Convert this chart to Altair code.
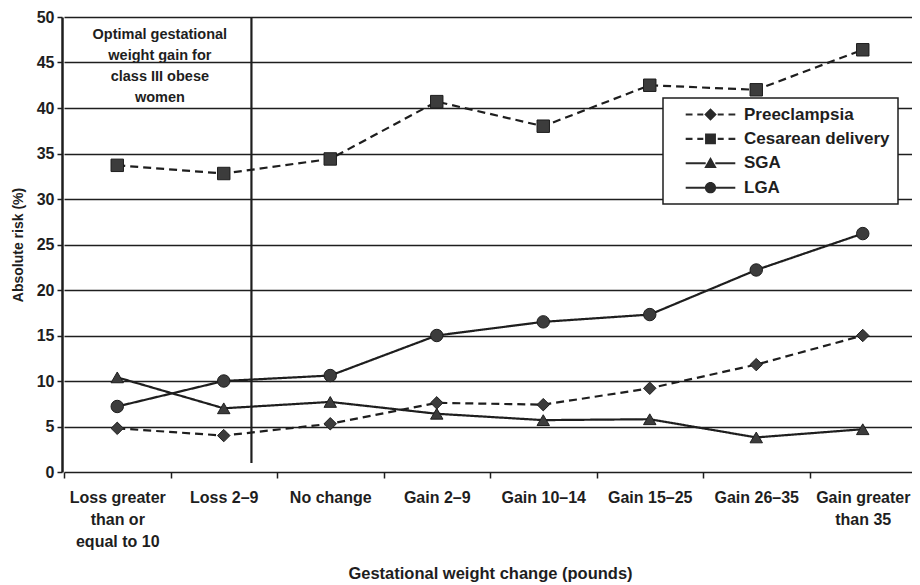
import altair as alt
import pandas as pd

# ---------------- data ----------------
categories = [
    "Loss greater|than or|equal to 10",
    "Loss 2–9",
    "No change",
    "Gain 2–9",
    "Gain 10–14",
    "Gain 15–25",
    "Gain 26–35",
    "Gain greater|than 35",
]
series = ["Preeclampsia", "Cesarean delivery", "SGA", "LGA"]
preeclampsia = [4.8, 4.0, 5.3, 7.6, 7.4, 9.2, 11.8, 15.0]
cesarean = [33.7, 32.8, 34.4, 40.7, 38.0, 42.5, 42.0, 46.4]
sga = [10.4, 7.0, 7.7, 6.4, 5.7, 5.8, 3.8, 4.7]
lga = [7.2, 10.0, 10.6, 15.0, 16.5, 17.3, 22.2, 26.2]
y_ticks = [0, 5, 10, 15, 20, 25, 30, 35, 40, 45, 50]
note_text = "Optimal gestational\nweight gain for\nclass III obese\nwomen"
x_title = "Gestational weight change (pounds)"
y_title = "Absolute risk (%)"

rows = []
for s, vals in zip(series, [preeclampsia, cesarean, sga, lga]):
    for c, v in zip(categories, vals):
        rows.append({"category": c, "series": s, "risk": v})
df = pd.DataFrame(rows)

FONT = "Liberation Sans"
INK = "#1e1e1e"
MARKER = "#3c3c3c"

x_scale = alt.Scale(type="band", domain=categories, range=[2, 854],
                    paddingInner=0, paddingOuter=0)
y_scale = alt.Scale(domain=[0, 50], nice=False)

x_axis = alt.Axis(
    labelExpr="split(datum.label, '|')", labelAngle=0, labelFont=FONT,
    labelFontSize=16, labelFontWeight="bold", labelColor=INK,
    labelLineHeight=22, labelPadding=11, labelLimit=200,
    tickBand="extent", tickSize=6, tickColor=INK, tickWidth=1.5,
    domain=False, grid=False,
    title=x_title, titleFont=FONT, titleFontSize=16.5, titleFontWeight="bold",
    titleColor=INK, titlePadding=16,
)
y_axis = alt.Axis(
    values=y_ticks, tickSize=5, tickColor=INK, tickWidth=1.5,
    labelFont=FONT, labelFontSize=16, labelFontWeight="bold", labelColor=INK,
    labelPadding=3,
    domainColor=INK, domainWidth=2.5,
    grid=True, gridColor=INK, gridWidth=1.4, gridOpacity=1,
    title=y_title, titleFont=FONT, titleFontSize=14, titleFontWeight="bold",
    titleColor=INK, titlePadding=11,
)

X = alt.X("category:N", sort=categories, scale=x_scale, axis=x_axis, bandPosition=0.5)
Y = alt.Y("risk:Q", scale=y_scale, axis=y_axis)

dash_scale = alt.Scale(domain=series, range=[[8, 5], [8, 5], [1, 0], [1, 0]])

lines = alt.Chart(df).mark_line(color=INK, strokeWidth=2.2).encode(
    x=X, y=Y,
    strokeDash=alt.StrokeDash("series:N", scale=dash_scale, legend=None),
    detail="series:N",
)

points = alt.Chart(df).mark_point(
    filled=True, fill=MARKER, stroke=INK, strokeWidth=1, opacity=1, size=155
).encode(
    x=X, y=Y,
    shape=alt.Shape("series:N", scale=alt.Scale(
        domain=series, range=["diamond", "square", "triangle-up", "circle"]), legend=None),
)

# legend symbols: thin filled bars (line pieces) + marker, unit = 8 px
def bar(x0, x1):
    return f"M{x0},-0.13H{x1}V0.13H{x0}Z"

DASHED = bar(-3.1, -2.25) + bar(-1.65, -0.9) + bar(0.9, 1.65) + bar(2.25, 3.1)
SOLID = bar(-3.1, -0.6) + bar(0.6, 3.1)
legend_paths = [
    DASHED + "M0,-0.78L0.78,0L0,0.78L-0.78,0Z",
    DASHED + "M-0.68,-0.68H0.68V0.68H-0.68Z",
    SOLID + "M0,-0.8L0.78,0.6H-0.78Z",
    SOLID
    + "M0.7,0C0.7,0.387 0.387,0.7 0,0.7C-0.387,0.7 -0.7,0.387 -0.7,0"
    "C-0.7,-0.387 -0.387,-0.7 0,-0.7C0.387,-0.7 0.7,-0.387 0.7,0Z",
]
legend_layer = alt.Chart(df).mark_point(
    filled=True, fill="#2a2a2a", opacity=1
).encode(
    x=X, y=Y,
    shape=alt.Shape("series:N", scale=alt.Scale(domain=series, range=legend_paths),
                    legend=alt.Legend(
                        title=None, orient="none", legendX=601, legendY=81,
                        padding=8, fillColor="white", strokeColor=INK,
                        symbolSize=256, symbolOffset=31, labelOffset=25,
                        symbolFillColor="#2a2a2a", symbolStrokeWidth=0,
                        symbolOpacity=1,
                        labelFont=FONT, labelFontSize=17, labelFontWeight="bold",
                        labelColor=INK, rowPadding=6.4, labelLimit=300,
                    )),
).transform_filter("false")

note_df = pd.DataFrame({"category": [categories[0]], "risk": [48.8], "text": [note_text]})
note = alt.Chart(note_df).mark_text(
    lineBreak="\n", baseline="top", align="center", font=FONT, fontSize=14.5,
    fontWeight="bold", lineHeight=21, color=INK,
).encode(
    x=alt.X("category:N", sort=categories, scale=x_scale, axis=x_axis, bandPosition=0.9),
    y=alt.Y("risk:Q", scale=y_scale, axis=y_axis),
    text="text:N",
)

rule_df = pd.DataFrame({"category": [categories[1]], "risk": [50], "risk2": [1]})
vrule = alt.Chart(rule_df).mark_rule(color=INK, strokeWidth=2.2).encode(
    x=alt.X("category:N", sort=categories, scale=x_scale, axis=x_axis, bandPosition=0.76),
    y=alt.Y("risk:Q", scale=y_scale, axis=y_axis),
    y2="risk2:Q",
)

chart = alt.layer(vrule, note, lines, points, legend_layer).resolve_scale(
    shape="independent"
).properties(
    width=850, height=455,
    autosize=alt.AutoSizeParams(type="none"),
    padding={"left": 54, "top": 9, "right": 0, "bottom": 112},
    background="white",
).configure_view(stroke=None).configure_legend(strokeWidth=1.5)

chart.save("out.html", embed_options={"renderer": "svg", "actions": False})
